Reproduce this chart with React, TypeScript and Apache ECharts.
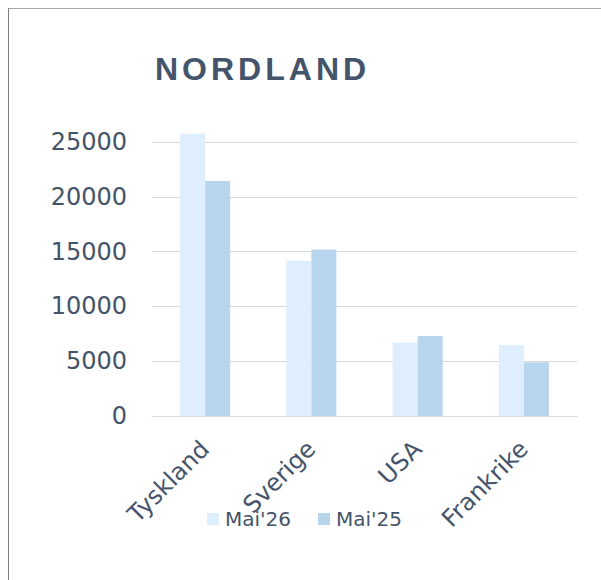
import React, { useEffect, useRef } from "react";
import * as echarts from "echarts";

const titleText = "NORDLAND";
const categories = ["Tyskland", "Sverige", "USA", "Frankrike"];
const seriesNames = ["Mai'26", "Mai'25"];
const mai26 = [25750, 14150, 6700, 6450];
const mai25 = [21450, 15200, 7300, 4900];
const yMin = 0;
const yMax = 25000;
const yInterval = 5000;

const TEXT = "#44546A";
const FONT = "DejaVu Sans";

export default function App() {
  const ref = useRef<HTMLDivElement>(null);
  useEffect(() => {
    if (!ref.current) return;
    const chart = echarts.init(ref.current, undefined, { renderer: "svg" });
    chart.setOption({
      animation: false,
      backgroundColor: "#ffffff",
      title: {
        text: titleText,
        left: 142,
        top: 40,
        textStyle: {
          fontFamily: "Liberation Sans",
          fontWeight: "bold",
          fontSize: 32,
          color: TEXT,
        },
      },
      graphic: [
        {
          type: "line",
          shape: { x1: 0, y1: 0.5, x2: 600, y2: 0.5 },
          style: { stroke: "#a6a6a6", lineWidth: 1 },
          silent: true,
        },
        {
          type: "line",
          shape: { x1: 0.5, y1: 0, x2: 0.5, y2: 600 },
          style: { stroke: "#767d87", lineWidth: 1 },
          silent: true,
        },
      ],
      grid: { left: 144, right: 24, top: 134, bottom: 164, containLabel: false },
      legend: {
        data: seriesNames,
        left: "center",
        top: 496,
        icon: "rect",
        itemWidth: 12,
        itemHeight: 12,
        itemGap: 27,
        textStyle: { fontFamily: FONT, fontSize: 20, color: TEXT, padding: [0, 0, 0, 1] },
      },
      xAxis: {
        type: "category",
        data: categories,
        axisLine: { show: true, lineStyle: { color: "#d9d9d9", width: 1 } },
        axisTick: { show: false },
        axisLabel: {
          interval: 0,
          rotate: 45,
          margin: 29,
          fontFamily: FONT,
          fontSize: 24,
          color: TEXT,
        },
      },
      yAxis: {
        type: "value",
        min: yMin,
        max: yMax,
        interval: yInterval,
        axisLine: { show: false },
        axisTick: { show: false },
        axisLabel: {
          margin: 25,
          fontFamily: FONT,
          fontSize: 24,
          color: TEXT,
          formatter: (v: number) => String(v),
        },
        splitLine: { lineStyle: { color: "#d9d9d9", width: 1 } },
      },
      series: [
        {
          name: seriesNames[0],
          type: "bar",
          data: mai26,
          barWidth: 25,
          barGap: "0%",
          clip: false,
          itemStyle: { color: "#DFEEFC" },
        },
        {
          name: seriesNames[1],
          type: "bar",
          data: mai25,
          barWidth: 25,
          barGap: "0%",
          clip: false,
          itemStyle: { color: "#B8D5EE" },
        },
      ],
    });
    const texts = ref.current.querySelectorAll("text");
    texts.forEach((t) => {
      if (t.textContent === titleText) {
        t.setAttribute("letter-spacing", "4");
      }
    });
    return () => chart.dispose();
  }, []);
  return (
    <div
      ref={ref}
      style={{ position: "absolute", left: 8, top: 8, width: 593, height: 572 }}
    />
  );
}
